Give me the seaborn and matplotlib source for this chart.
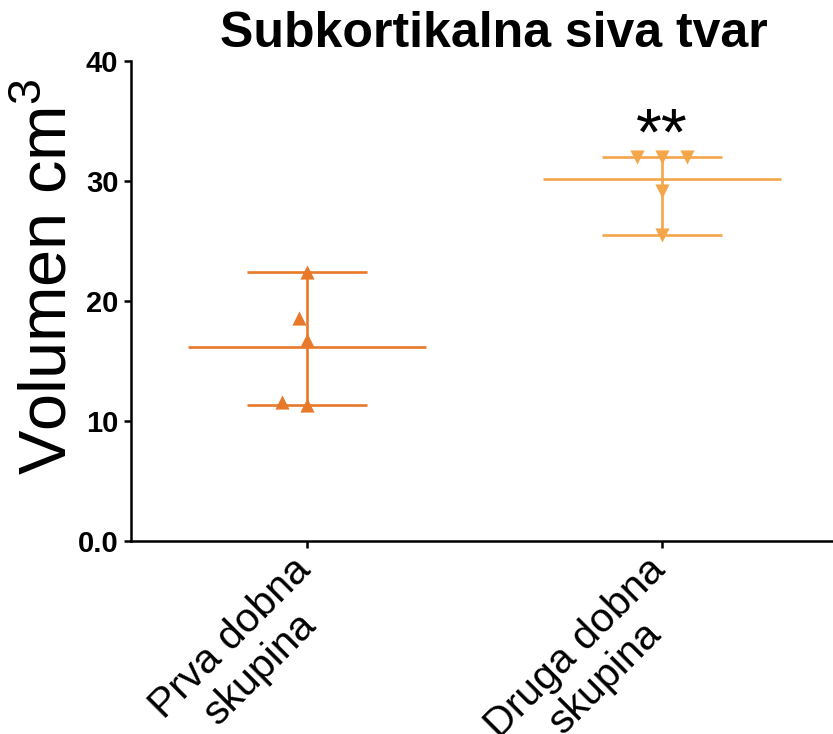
import numpy as np
import pandas as pd
import matplotlib
matplotlib.use("Agg")
import matplotlib.pyplot as plt
from matplotlib.path import Path
from matplotlib.transforms import ScaledTranslation
import seaborn as sns

# ---- data ----
groups = ["Prva dobna\nskupina", "Druga dobna\nskupina"]
prva_values = [22.4, 18.6, 16.75, 11.3, 11.6]
druga_values = [32.0, 32.0, 32.0, 29.2, 25.5]
colors = ["#E8782A", "#F5A64A"]
yticks = [0, 10, 20, 30, 40]
ytick_labels = ["0.0", "10", "20", "30", "40"]
title = "Subkortikalna siva tvar"
ylabel = "Volumen cm$^3$"
significance = "**"

df = pd.DataFrame({
    "group": [groups[0]] * len(prva_values) + [groups[1]] * len(druga_values),
    "volume": prva_values + druga_values,
})

# triangle markers drawn smaller than the swarm spacing footprint
a = 0.6
tri_up = Path([[0, 1], [0, a], [-a, -a], [a, -a], [0, a]],
              [Path.MOVETO, Path.MOVETO, Path.LINETO, Path.LINETO, Path.CLOSEPOLY])
tri_down = Path([[0, 1], [0, -a], [-a, a], [a, a], [0, -a]],
                [Path.MOVETO, Path.MOVETO, Path.LINETO, Path.LINETO, Path.CLOSEPOLY])
markers = [tri_up, tri_down]

sns.set_style("ticks")
plt.rcParams["font.family"] = ["Liberation Sans", "DejaVu Sans"]
plt.rcParams["mathtext.fontset"] = "custom"
plt.rcParams["mathtext.rm"] = "Liberation Sans"
plt.rcParams["mathtext.it"] = "Liberation Sans"
for k in ["text.color", "axes.labelcolor", "xtick.color", "ytick.color", "axes.edgecolor"]:
    plt.rcParams[k] = "black"

fig = plt.figure(figsize=(8.33, 7.34), dpi=100)
ax = fig.add_axes([131 / 833, 193 / 734, 1 - 131 / 833 - 0.001, 480 / 734])

for i, g in enumerate(groups):
    sub = df[df["group"] == g]
    sns.swarmplot(data=sub, x="group", y="volume", order=groups, marker=markers[i],
                  color=colors[i], size=17, linewidth=0, ax=ax, zorder=3)
    vals = sub["volume"].to_numpy()
    m, lo, hi = vals.mean(), vals.min(), vals.max()
    ax.hlines(m, i - 0.335, i + 0.335, color=colors[i], lw=1.9, zorder=2)
    ax.hlines([lo, hi], i - 0.17, i + 0.17, color=colors[i], lw=1.9, zorder=2)
    ax.vlines(i, lo, hi, color=colors[i], lw=1.9, zorder=2)

ax.set_xlim(-0.496, 1.48)
ax.set_ylim(0, 40)
ax.tick_params(axis="both", length=5, width=1.8, color="black", pad=4)
ax.set_yticks(yticks, labels=ytick_labels)
ax.set_xticks([0, 1])
ax.set_xticklabels(groups, rotation=45, ha="right", rotation_mode="anchor",
                   fontsize=29.5, linespacing=1.16, multialignment="center")
for lab in ax.get_yticklabels():
    lab.set_fontsize(21)
    lab.set_fontweight("bold")
ax.set_xlabel("")
ax.set_ylabel("")
for s in ["left", "bottom"]:
    ax.spines[s].set_linewidth(1.8)
sns.despine(ax=ax)

ax.text(1, 32.2, significance, ha="center", va="baseline", fontsize=48)

fig.text(494 / 833, 1 - 47 / 734, title, ha="center", va="baseline",
         fontsize=36, fontweight="bold")
fig.text(67 / 833, 1 - 277 / 734, ylabel, rotation=90, rotation_mode="anchor",
         ha="center", va="baseline", fontsize=48)

shift = ScaledTranslation(-16 / 100, 3 / 100, fig.dpi_scale_trans)
for lab in ax.get_xticklabels():
    lab.set_transform(lab.get_transform() + shift)

fig.savefig("out.png", dpi=100)
